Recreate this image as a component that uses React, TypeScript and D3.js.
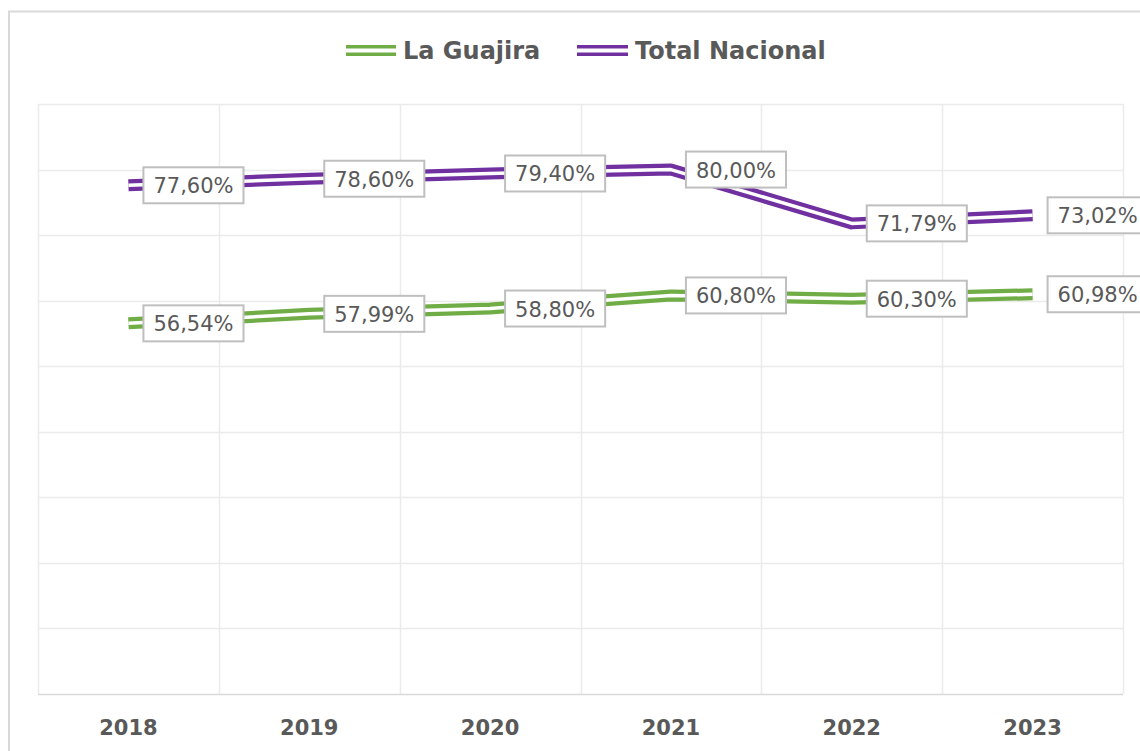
import React, { useEffect, useRef } from "react";
import * as d3 from "d3";

const years = ["2018", "2019", "2020", "2021", "2022", "2023"];
const laGuajira = [56.54, 57.99, 58.8, 60.8, 60.3, 60.98];
const totalNacional = [77.6, 78.6, 79.4, 80.0, 71.79, 73.02];
const yTicks = [0, 10, 20, 30, 40, 50, 60, 70, 80, 90];
const seriesNames = ["La Guajira", "Total Nacional"];
const seriesColors = ["#70AD47", "#7030A0"];

const W = 1140;
const H = 751;
const FONT = "'DejaVu Sans', Verdana, sans-serif";
const TXT = "#595959";

export default function App() {
  const ref = useRef<SVGSVGElement | null>(null);

  useEffect(() => {
    const svg = d3.select(ref.current);
    svg.selectAll("*").remove();

    const plot = { left: 38, right: 1123, top: 104, bottom: 694 };
    const x = d3.scaleBand<string>().domain(years).range([plot.left, plot.right]).padding(0);
    const y = d3.scaleLinear().domain([0, 90]).range([plot.bottom, plot.top]);
    const cx = (d: string) => (x(d) as number) + x.bandwidth() / 2;

    svg.append("rect").attr("width", W).attr("height", H).attr("fill", "#fff");
    // chart border
    svg.append("rect")
      .attr("x", 9).attr("y", 11.5).attr("width", W + 20).attr("height", H + 20)
      .attr("fill", "none").attr("stroke", "#D9D9D9").attr("stroke-width", 2);

    // horizontal gridlines
    svg.append("g").selectAll("line").data(yTicks.slice(1)).join("line")
      .attr("x1", plot.left).attr("x2", plot.right)
      .attr("y1", (d) => Math.round(y(d)) + 0.5).attr("y2", (d) => Math.round(y(d)) + 0.5)
      .attr("stroke", "#EBEBEB").attr("stroke-width", 1.5);
    // vertical gridlines
    const bounds = years.map((d) => x(d) as number).concat([plot.right]);
    svg.append("g").selectAll("line").data(bounds).join("line")
      .attr("x1", (d) => Math.round(d) + 0.5).attr("x2", (d) => Math.round(d) + 0.5)
      .attr("y1", plot.top).attr("y2", plot.bottom)
      .attr("stroke", "#EBEBEB").attr("stroke-width", 1.5);
    // bottom axis
    svg.append("line")
      .attr("x1", plot.left).attr("x2", plot.right)
      .attr("y1", plot.bottom + 0.5).attr("y2", plot.bottom + 0.5)
      .attr("stroke", "#D9D9D9").attr("stroke-width", 1.5);

    // x labels
    svg.append("g").selectAll("text").data(years).join("text")
      .attr("x", (d) => cx(d)).attr("y", 735)
      .attr("text-anchor", "middle")
      .attr("font-family", FONT).attr("font-weight", "bold").attr("font-size", 21)
      .attr("fill", TXT).text((d) => d);

    const allSeries = [laGuajira, totalNacional];
    const line = d3.line<number>()
      .x((_, i) => cx(years[i]))
      .y((d) => y(d));

    allSeries.forEach((vals, si) => {
      svg.append("path").attr("d", line(vals) as string)
        .attr("fill", "none").attr("stroke", seriesColors[si]).attr("stroke-width", 12)
        .attr("stroke-linejoin", "round");
      svg.append("path").attr("d", line(vals) as string)
        .attr("fill", "none").attr("stroke", "#fff").attr("stroke-width", 3.5)
        .attr("stroke-linejoin", "round");
    });

    // data labels
    allSeries.forEach((vals) => {
      vals.forEach((v, i) => {
        const px = cx(years[i]);
        const py = y(v);
        const g = svg.append("g");
        const label = v.toFixed(2).replace(".", ",") + "%";
        const rect = g.append("rect");
        const t = g.append("text")
          .attr("x", px + 15 + 10).attr("y", py + 8)
          .attr("font-family", FONT).attr("font-size", 21).attr("fill", TXT)
          .text(label);
        const tw = (t.node() as SVGTextElement).getComputedTextLength();
        rect.attr("x", px + 15).attr("y", py - 18).attr("width", tw + 20).attr("height", 36)
          .attr("fill", "#fff").attr("stroke", "#BFBFBF").attr("stroke-width", 2);
      });
    });

    // legend
    const legendItems = [
      { x0: 346, x1: 396, tx: 403 },
      { x0: 577, x1: 628, tx: 635 },
    ];
    legendItems.forEach((it, si) => {
      svg.append("line").attr("x1", it.x0).attr("x2", it.x1).attr("y1", 50.5).attr("y2", 50.5)
        .attr("stroke", seriesColors[si]).attr("stroke-width", 11);
      svg.append("line").attr("x1", it.x0).attr("x2", it.x1).attr("y1", 50.5).attr("y2", 50.5)
        .attr("stroke", "#fff").attr("stroke-width", 4);
      svg.append("text").attr("x", it.tx).attr("y", 59)
        .attr("font-family", FONT).attr("font-weight", "bold").attr("font-size", 24)
        .attr("fill", TXT).text(seriesNames[si]);
    });
  }, []);

  return (
    <svg
      ref={ref}
      width={W}
      height={H}
      style={{ position: "absolute", left: 0, top: 0, display: "block" }}
    />
  );
}
